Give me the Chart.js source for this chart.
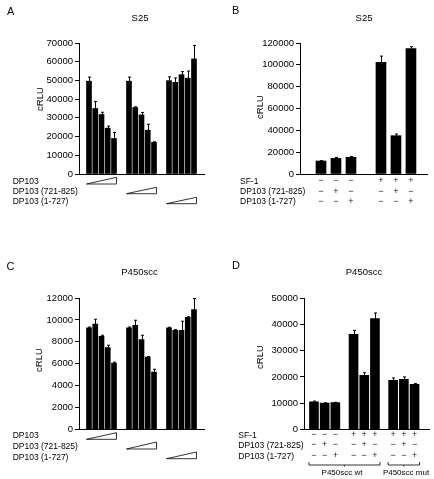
<!DOCTYPE html>
<html>
<head>
<meta charset="utf-8">
<script src="https://cdn.jsdelivr.net/npm/chart.js@4.4.0/dist/chart.umd.min.js"></script>
<style>
  body { margin: 0; background: #fff; }
  #fig { position: relative; width: 434px; height: 479px; overflow: hidden;
         font-family: "Liberation Sans", Arial, Helvetica, sans-serif; color: #000; }
  #fig canvas { position: absolute; }
  .t { position: absolute; white-space: nowrap; }
</style>
</head>
<body>
<div id="fig">
  <canvas id="cA" width="217" height="240" style="left:0;top:0"></canvas>
  <canvas id="cB" width="217" height="240" style="left:217px;top:0"></canvas>
  <canvas id="cC" width="217" height="239" style="left:0;top:240px"></canvas>
  <canvas id="cD" width="217" height="239" style="left:217px;top:240px"></canvas>
</div>
<script>
const FONT = '"Liberation Sans", Arial, Helvetica, sans-serif';

// panel A / C : dose series, 3 groups of 5
const doseRows = ['DP103', 'DP103 (721-825)', 'DP103 (1-727)'];
const s25Dose = [49600, 35000, 31800, 24500, 19000, 49600, 35500, 31600, 23400, 16900, 49900, 49000, 53100, 51200, 61500];
const s25DoseErr = [2200, 3700, 1200, 1100, 3200, 2200, 400, 1300, 3200, 300, 2000, 2300, 1600, 3800, 7200];
const sccDose = [9270, 9630, 8500, 7480, 6050, 9270, 9510, 8200, 6600, 5230, 9270, 9060, 9060, 10240, 10940];
const sccDoseErr = [80, 430, 100, 210, 100, 80, 460, 400, 60, 270, 60, 50, 820, 50, 1010];

// panel B / D : +/- design
const signRows = ['SF-1', 'DP103 (721-825)', 'DP103 (1-727)'];
const s25Sf1 = [0, 0, 0, 1, 1, 1];
const s25Dp721 = [0, 1, 0, 0, 1, 0];
const s25Dp1 = [0, 0, 1, 0, 0, 1];
const s25Sign = [11900, 14300, 15300, 102300, 35100, 114800];
const s25SignErr = [300, 900, 700, 5700, 1500, 1800];

const sccSf1 = [0, 0, 0, 1, 1, 1, 1, 1, 1];
const sccDp721 = [0, 1, 0, 0, 1, 0, 0, 1, 0];
const sccDp1 = [0, 0, 1, 0, 0, 1, 0, 0, 1];
const sccSign = [10500, 10000, 10250, 36200, 20600, 42200, 18700, 19100, 17200];
const sccSignErr = [300, 150, 100, 1500, 1000, 2100, 900, 900, 250];
const sccGroups = ['P450scc wt', 'P450scc mut'];

const fig = document.getElementById('fig');
function label(text, x, y, size, align, rotate) {
  const d = document.createElement('div');
  d.className = 't';
  d.textContent = text;
  d.style.fontSize = size + 'px';
  d.style.lineHeight = '12px';
  d.style.left = x + 'px';
  d.style.top = (y - 6) + 'px';
  if (rotate) {
    d.style.top = y + 'px';
    d.style.transform = 'translate(-50%,-50%) rotate(-90deg)';
  } else if (align === 'center') {
    d.style.transform = 'translateX(-50%)';
  }
  fig.appendChild(d);
}

const errorBars = {
  id: 'errorBars',
  afterDatasetsDraw(chart, args, opts) {
    const meta = chart.getDatasetMeta(0);
    const y = chart.scales.y;
    const ctx = chart.ctx;
    ctx.save();
    ctx.strokeStyle = '#000';
    ctx.lineWidth = 1;
    meta.data.forEach((bar, i) => {
      const top = y.getPixelForValue(opts.values[i] + opts.errors[i]);
      const bx = Math.round(bar.x) + 0.5;
      ctx.beginPath();
      ctx.moveTo(bx, bar.y);
      ctx.lineTo(bx, top);
      ctx.moveTo(bx - 1.5, top);
      ctx.lineTo(bx + 1.5, top);
      ctx.stroke();
    });
    ctx.restore();
  }
};

const rowMarks = {
  id: 'rowMarks',
  afterDraw(chart, args, opts) {
    const x = chart.scales.x;
    const ctx = chart.ctx;
    ctx.save();
    ctx.strokeStyle = '#000';
    ctx.fillStyle = '#000';
    ctx.lineWidth = 0.8;
    (opts.wedges || []).forEach((w, r) => {
      const l = x.getPixelForValue(w[0]) - opts.half;
      const rr = x.getPixelForValue(w[1]) + opts.half;
      const [top, bot] = opts.rowY[r];
      ctx.beginPath();
      ctx.moveTo(l, bot);
      ctx.lineTo(rr, bot);
      ctx.lineTo(rr, top);
      ctx.closePath();
      ctx.stroke();
    });
    if (opts.signs) {
      ctx.font = '9px ' + FONT;
      ctx.textAlign = 'center';
      ctx.textBaseline = 'middle';
      ctx.fillStyle = '#222';
      opts.signs.forEach((row, r) => {
        row.forEach((s, i) => {
          ctx.fillText(s ? '+' : '\u2212', x.getPixelForValue(opts.xs[i]), opts.rowY[r]);
        });
      });
    }
    (opts.brackets || []).forEach(b => {
      const l = x.getPixelForValue(b[0]) - opts.half;
      const rr = x.getPixelForValue(b[1]) + opts.half;
      const yb = opts.bracketY;
      ctx.lineWidth = 0.8;
      ctx.beginPath();
      ctx.moveTo(l, yb - 3);
      ctx.lineTo(l, yb);
      ctx.lineTo(rr, yb);
      ctx.lineTo(rr, yb - 3);
      ctx.moveTo((l + rr) / 2, yb);
      ctx.lineTo((l + rr) / 2, yb + 1.5);
      ctx.stroke();
    });
    ctx.restore();
  }
};

function yAxis(max, step) {
  return {
    min: 0, max: max,
    afterFit: s => { s.width = 40; },
    ticks: { stepSize: step, autoSkip: false, color: '#000', padding: 2,
             font: { family: FONT, size: 9.5 }, callback: v => String(v) },
    grid: { display: true, drawOnChartArea: false, drawTicks: true, tickLength: 4, color: '#000' },
    border: { display: true, color: '#000', width: 1 }
  };
}
function xAxis(min, max) {
  return {
    type: 'linear', min: min, max: max, offset: false,
    afterFit: s => { s.height = 0; },
    ticks: { display: false },
    grid: { display: false },
    border: { display: true, color: '#000', width: 1 }
  };
}

function makeChart(id, xs, values, errors, thick, xr, yr, pad, marks) {
  return new Chart(document.getElementById(id), {
    type: 'bar',
    data: {
      datasets: [{
        data: values.map((v, i) => ({ x: xs[i], y: v })),
        backgroundColor: '#000',
        borderWidth: 0,
        barThickness: thick
      }]
    },
    options: {
      responsive: false,
      animation: false,
      events: [],
      layout: { padding: pad },
      scales: { x: xAxis(xr[0], xr[1]), y: yAxis(yr[0], yr[1]) },
      plugins: {
        legend: { display: false },
        tooltip: { enabled: false },
        errorBars: { values: values, errors: errors },
        rowMarks: marks
      }
    },
    plugins: [errorBars, rowMarks]
  });
}

// x positions (layout only)
const doseX = s25Dose.map((_, k) => Math.floor(k / 5) * 6.4 + k % 5);
const doseWedges = [0, 1, 2].map(g => [g * 6.4, g * 6.4 + 4]);
const s25X = [0, 1, 2, 4, 5, 6];
const sccX = sccSign.map((_, k) => Math.floor(k / 3) * 3.7 + k % 3);

makeChart('cA', doseX, s25Dose, s25DoseErr, 5, [-1.6, 18.4], [70000, 10000],
  { left: 39, right: 13, top: 43, bottom: 66 },
  { wedges: doseWedges, half: 2.5, rowY: [[177.3, 184], [187.3, 193.7], [197.3, 203.7]] });

makeChart('cB', s25X, s25Sign, s25SignErr, 10, [-1.4, 7.07], [120000, 20000],
  { left: 43, right: 7, top: 43, bottom: 66 },
  { signs: [s25Sf1, s25Dp721, s25Dp1], xs: s25X, rowY: [180.7, 191.3, 201.3] });

makeChart('cC', doseX, sccDose, sccDoseErr, 5, [-1.6, 18.4], [12000, 2000],
  { left: 39, right: 13, top: 58, bottom: 49.5 },
  { wedges: doseWedges, half: 2.5, rowY: [[192.7, 199.3], [202, 209], [212, 218.7]] });

makeChart('cD', sccX, sccSign, sccSignErr, 9, [-0.93, 10.75], [50000, 10000],
  { left: 47, right: 5, top: 58, bottom: 49.5 },
  { signs: [sccSf1, sccDp721, sccDp1], xs: sccX, rowY: [195, 205, 215.7],
    brackets: [[sccX[0], sccX[5]], [sccX[6], sccX[8]]], half: 5, bracketY: 225 });

// panel letters, titles, axis titles, row labels
label('A', 7, 10.5, 11);
label('B', 232, 9.5, 11);
label('C', 6.5, 265.5, 11);
label('D', 232, 264.5, 11);
label('S25', 140, 18.3, 9.5, 'center');
label('S25', 364, 18.3, 9.5, 'center');
label('P450scc', 139.5, 271.7, 9.5, 'center');
label('P450scc', 364, 271.7, 9.5, 'center');
label('cRLU', 39.5, 98.5, 9.5, null, true);
label('cRLU', 260, 106.5, 9.5, null, true);
label('cRLU', 39, 360, 9.5, null, true);
label('cRLU', 260, 357, 9.5, null, true);
[181, 190.7, 201].forEach((y, r) => label(doseRows[r], 12.7, y, 8.5));
[435, 446, 456.7].forEach((y, r) => label(doseRows[r], 12.7, y, 8.5));
[180.7, 191.3, 201.3].forEach((y, r) => label(signRows[r], 240, y, 8.5));
[435, 445, 455.7].forEach((y, r) => label(signRows[r], 238.3, y, 8.5));
label(sccGroups[0], 342, 472.5, 8, 'center');
label(sccGroups[1], 406, 472.5, 8, 'center');
</script>
</body>
</html>
